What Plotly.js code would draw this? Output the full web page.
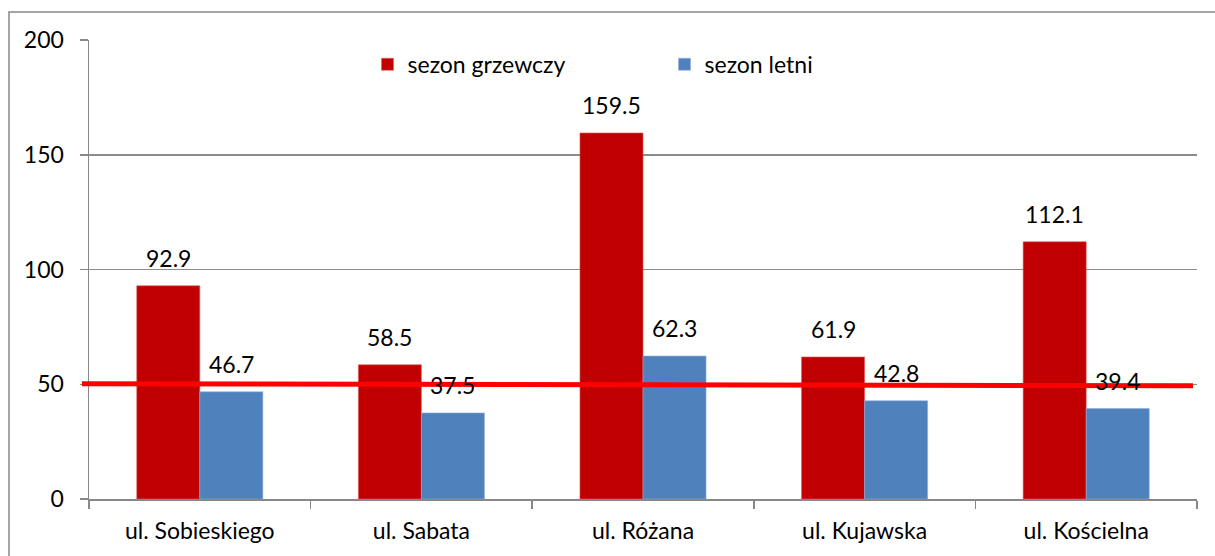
<!DOCTYPE html>
<html>
<head>
<meta charset="utf-8">
<script src="https://cdn.plot.ly/plotly-3.0.1.min.js"></script>
<style>
html,body{margin:0;padding:0;background:#fff;}
#chart{width:1215px;height:556px;}
</style>
</head>
<body>
<div id="chart"></div>
<script>
const categories = ["ul. Sobieskiego", "ul. Sabata", "ul. Różana", "ul. Kujawska", "ul. Kościelna"];
const heatingSeason = [92.9, 58.5, 159.5, 61.9, 112.1];
const summerSeason = [46.7, 37.5, 62.3, 42.8, 39.4];
const seriesNames = ["sezon grzewczy", "sezon letni"];
const yTicks = [0, 50, 100, 150, 200];
const limitLine = [50.2, 49.3];

const FONT = "Lato, 'Open Sans', sans-serif";
const FS = 23;
const BARGAP = 0.431;
const halfOffset = (1 - BARGAP) / 4;

const traces = [
  {type: "bar", name: seriesNames[0], x: categories, y: heatingSeason,
   marker: {color: "#c00000", line: {color: "#e06060", width: 0.6}}, hoverinfo: "x+y"},
  {type: "bar", name: seriesNames[1], x: categories, y: summerSeason,
   marker: {color: "#4f81bd", line: {color: "#8fb0d8", width: 0.6}}, hoverinfo: "x+y"}
];

const annotations = [];
categories.forEach((c, i) => {
  annotations.push({x: i - halfOffset, y: heatingSeason[i], xref: "x", yref: "y",
    text: heatingSeason[i].toFixed(1), showarrow: false, yanchor: "bottom", yshift: 12,
    font: {family: FONT, size: FS, color: "#000"}});
  annotations.push({x: i + halfOffset, y: summerSeason[i], xref: "x", yref: "y",
    text: summerSeason[i].toFixed(1), showarrow: false, yanchor: "bottom", yshift: 12,
    font: {family: FONT, size: FS, color: "#000"}});
});

const layout = {
  width: 1215, height: 556,
  margin: {l: 89, r: 18, t: 40, b: 57},
  paper_bgcolor: "#fff", plot_bgcolor: "#fff",
  font: {family: FONT, size: FS, color: "#000"},
  barmode: "group", bargap: BARGAP, bargroupgap: 0,
  showlegend: true,
  legend: {orientation: "h", x: 0.2514, y: 0.947, xanchor: "left", yanchor: "middle",
    entrywidth: 252, entrywidthmode: "pixels", itemwidth: 30,
    font: {family: FONT, size: FS, color: "#000"}, bgcolor: "rgba(0,0,0,0)", traceorder: "normal"},
  xaxis: {type: "category", tickson: "boundaries", ticks: "outside", ticklen: 8, tickcolor: "#888",
    tickwidth: 1.5, showline: true, linecolor: "#888", linewidth: 1.5, showgrid: false,
    ticklabelstandoff: 11, tickfont: {family: FONT, size: FS, color: "#000"}, fixedrange: true},
  yaxis: {range: [0, 200], tickvals: yTicks, ticktext: yTicks.map(String), ticks: "outside",
    ticklen: 8, tickcolor: "#888", tickwidth: 1.5, showline: true, linecolor: "#888", linewidth: 1.5,
    showgrid: true, gridcolor: "#8c8c8c", gridwidth: 1.5, zeroline: false,
    ticklabelstandoff: 11, tickfont: {family: FONT, size: FS, color: "#000"}, fixedrange: true},
  shapes: [
    {type: "rect", xref: "paper", yref: "paper", x0: -0.0722, x1: 1.2, y0: -0.3, y1: 1.061,
     line: {color: "#888", width: 1.5}, fillcolor: "rgba(0,0,0,0)", layer: "below"},
    {type: "line", xref: "paper", yref: "y", x0: -0.0063, x1: 0.9964, y0: limitLine[0], y1: limitLine[1],
     line: {color: "#ff0000", width: 5}, layer: "above"}
  ],
  annotations: annotations
};

Plotly.newPlot("chart", traces, layout, {displayModeBar: false, staticPlot: true});
</script>
</body>
</html>
